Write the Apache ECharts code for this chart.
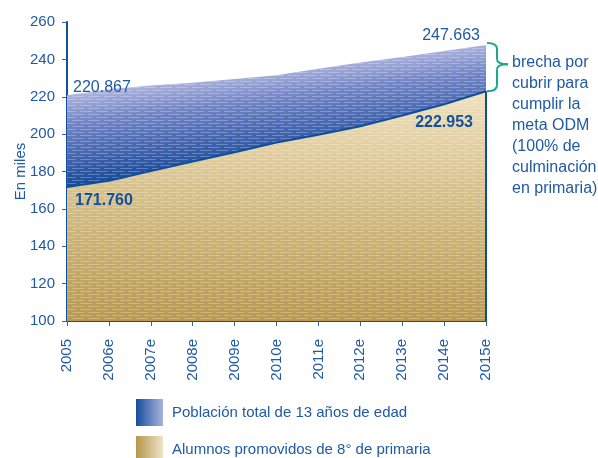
<!DOCTYPE html>
<html>
<head>
<meta charset="utf-8">
<script src="https://cdn.jsdelivr.net/npm/echarts@6/dist/echarts.min.js"></script>
<style>
  html, body { margin: 0; padding: 0; background: #fff; }
  #chart { width: 598px; height: 458px; }
</style>
</head>
<body>
<div id="chart"></div>
<script>
// valores en miles
var anios = ['2005', '2006e', '2007e', '2008e', '2009e', '2010e', '2011e', '2012e', '2013e', '2014e', '2015e']
var poblacion = [220.867, 224.0, 226.0, 227.5, 229.5, 231.5, 235.0, 238.3, 241.3, 244.5, 247.663]
var alumnos = [171.760, 175.0, 180.2, 185.3, 190.3, 195.5, 199.7, 204.2, 210.0, 216.0, 222.953]
var yMin = 100
var yMax = 260
var yStep = 20
var nombres = ['Población total de 13 años de edad', 'Alumnos promovidos de 8° de primaria']
var nota = ['brecha por', 'cubrir para', 'cumplir la', 'meta ODM', '(100% de', 'culminación', 'en primaria)']

var azul = '#1f5aa5'
var fuente = '"Liberation Sans", Arial, sans-serif'
var ultimo = anios.length - 1

var myChart = echarts.init(document.getElementById('chart'), null, { renderer: 'canvas' })

function rayado() {
  return {
    symbol: 'rect',
    symbolSize: 1,
    color: 'rgba(255,255,255,0.26)',
    dashArrayX: [[12, 4], [4, 4, 8, 0]],
    dashArrayY: [1, 2],
    rotation: 0
  }
}

function etiquetas(valores, opts) {
  return valores.map(function(v, i) {
    if (i === 0) return { value: v, label: opts[0] }
    if (i === ultimo) return { value: v, label: opts[1] }
    return v
  })
}

function fmt(p) {
  return p.value.toFixed(3)
}

var option = {
  animation: false,
  textStyle: { fontFamily: fuente },
  grid: { left: 67, right: 112, top: 22, bottom: 137, outerBoundsMode: 'none', containLabel: false },
  legend: {
    orient: 'vertical',
    left: 136,
    top: 399,
    height: 80,
    padding: 0,
    itemWidth: 27,
    itemHeight: 27,
    itemGap: 10,
    icon: 'rect',
    selectedMode: false,
    textStyle: { color: azul, fontSize: 15, fontFamily: fuente, padding: [0, 0, 0, 4] },
    data: [
      {
        name: nombres[0],
        itemStyle: {
          decal: 'none',
          color: new echarts.graphic.LinearGradient(0, 0, 1, 0, [
            { offset: 0, color: '#174c9b' },
            { offset: 1, color: '#aab3dc' }
          ])
        },
        lineStyle: { width: 0 }
      },
      {
        name: nombres[1],
        itemStyle: {
          decal: 'none',
          color: new echarts.graphic.LinearGradient(0, 0, 1, 0, [
            { offset: 0, color: '#b5974e' },
            { offset: 1, color: '#eee3c6' }
          ])
        },
        lineStyle: { width: 0 }
      }
    ]
  },
  xAxis: {
    type: 'category',
    data: anios,
    boundaryGap: false,
    axisLine: { lineStyle: { color: '#0f4f9e', width: 2 } },
    axisTick: { length: 5, lineStyle: { color: '#2a62aa' } },
    axisLabel: { rotate: 90, color: azul, fontSize: 15, margin: 18, fontFamily: fuente },
    splitLine: { show: false }
  },
  yAxis: {
    type: 'value',
    min: yMin,
    max: yMax,
    interval: yStep,
    name: 'En miles',
    nameLocation: 'middle',
    nameGap: 39,
    nameMoveOverlap: false,
    nameTextStyle: { color: azul, fontSize: 15, fontFamily: fuente },
    axisLine: { show: true, lineStyle: { color: '#0f4f9e', width: 2 } },
    axisTick: { show: true, length: 5, lineStyle: { color: '#2a62aa' } },
    axisLabel: { color: azul, fontSize: 15, margin: 12, fontFamily: fuente },
    splitLine: { show: false }
  },
  series: [
    {
      name: nombres[0],
      type: 'line',
      data: etiquetas(poblacion, [
        { show: true, formatter: fmt, position: [6, -16], color: azul, fontSize: 16, fontFamily: fuente },
        { show: true, formatter: fmt, position: [-6, -17], align: 'right', color: azul, fontSize: 16, fontFamily: fuente }
      ]),
      symbol: 'circle',
      symbolSize: 0,
      showSymbol: true,
      lineStyle: { width: 0 },
      itemStyle: { color: '#3a5eab', decal: rayado() },
      areaStyle: {
        origin: 'start',
        opacity: 1,
        color: new echarts.graphic.LinearGradient(276, 70, 287, 160, [
          { offset: 0, color: '#abb3dd' },
          { offset: 0.3, color: '#7486c6' },
          { offset: 1, color: '#1b4a9a' }
        ], true)
      },
      emphasis: { disabled: true },
      z: 2
    },
    {
      name: nombres[1],
      type: 'line',
      data: etiquetas(alumnos, [
        { show: true, formatter: fmt, position: [8, 6], color: '#13509c', fontWeight: 'bold', fontSize: 16, fontFamily: fuente },
        { show: true, formatter: fmt, position: [-13, 23], align: 'right', color: '#13509c', fontWeight: 'bold', fontSize: 16, fontFamily: fuente }
      ]),
      symbol: 'circle',
      symbolSize: 0,
      showSymbol: true,
      lineStyle: { width: 2, color: '#0d4f9c' },
      itemStyle: { color: '#c9ad6c', decal: rayado() },
      areaStyle: {
        origin: 'start',
        opacity: 1,
        color: new echarts.graphic.LinearGradient(0, 90, 0, 321, [
          { offset: 0, color: '#efe1be' },
          { offset: 1, color: '#b8994f' }
        ], true)
      },
      markLine: {
        silent: true,
        symbol: 'none',
        label: { show: false },
        lineStyle: { color: '#0d4f9c', width: 2, type: 'solid' },
        data: [[
          { coord: [anios[ultimo], yMin] },
          { coord: [anios[ultimo], alumnos[ultimo]] }
        ]]
      },
      emphasis: { disabled: true },
      z: 3
    }
  ]
}

option && myChart.setOption(option)

// llave verde para la brecha y nota
var pTop = myChart.convertToPixel({ gridIndex: 0 }, [ultimo, poblacion[ultimo]])
var pBot = myChart.convertToPixel({ gridIndex: 0 }, [ultimo, alumnos[ultimo]])
var x0 = pTop[0] + 1
var xv = x0 + 10
var y0 = pTop[1] - 2
var y1 = pBot[1]
var ym = y0 + (y1 - y0) * 0.44
var llave = { stroke: '#17a98a', lineWidth: 2, fill: null }

myChart.setOption({
  graphic: [
    { type: 'bezierCurve', silent: true, shape: { x1: x0, y1: y0, cpx1: xv, cpy1: y0, x2: xv, y2: y0 + 6 }, style: llave },
    { type: 'line', silent: true, shape: { x1: xv, y1: y0 + 6, x2: xv, y2: ym - 5 }, style: llave },
    { type: 'bezierCurve', silent: true, shape: { x1: xv, y1: ym - 5, cpx1: xv, cpy1: ym, x2: xv + 11, y2: ym }, style: llave },
    { type: 'bezierCurve', silent: true, shape: { x1: xv + 11, y1: ym, cpx1: xv, cpy1: ym, x2: xv, y2: ym + 5 }, style: llave },
    { type: 'line', silent: true, shape: { x1: xv, y1: ym + 5, x2: xv, y2: y1 - 6 }, style: llave },
    { type: 'bezierCurve', silent: true, shape: { x1: xv, y1: y1 - 6, cpx1: xv, cpy1: y1, x2: x0, y2: y1 }, style: llave },
    {
      type: 'text',
      left: 512,
      top: 52,
      silent: true,
      style: {
        text: nota.join('\n'),
        fill: azul,
        font: '16px ' + fuente,
        lineHeight: 21
      }
    }
  ]
})
</script>
</body>
</html>
